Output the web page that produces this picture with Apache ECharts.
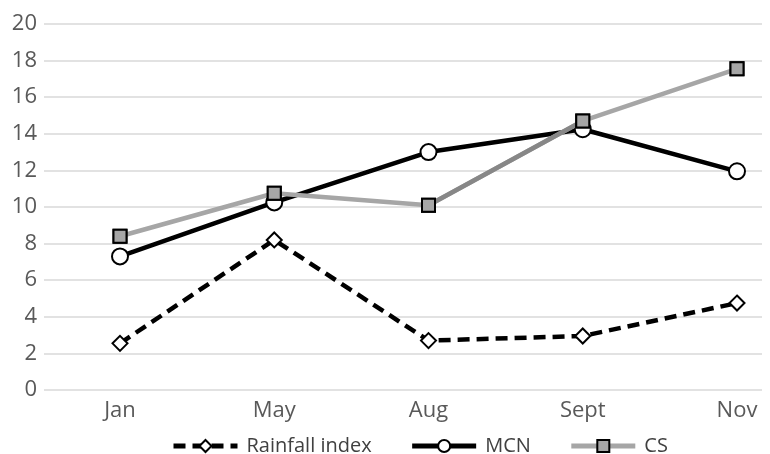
<!DOCTYPE html>
<html>
<head>
<meta charset="utf-8">
<script src="https://cdn.jsdelivr.net/npm/echarts@6/dist/echarts.min.js"></script>
<style>html,body{margin:0;padding:0;background:#fff}#c{width:770px;height:454px}</style>
</head>
<body>
<div id="c"></div>
<script>
const months = ['Jan', 'May', 'Aug', 'Sept', 'Nov'];
const rainfall = [2.55, 8.2, 2.7, 2.95, 4.75];
const mcn = [7.3, 10.25, 13.0, 14.25, 11.95];
const cs = [8.4, 10.75, 10.1, 14.7, 17.55];
// Aug–Sept stretch of CS is drawn in a darker grey
const csDark = ['-', '-', 10.1, 14.7, '-'];
const yTicks = { min: 0, max: 20, interval: 2 };

const font = '"Open Sans", "Noto Sans", sans-serif';
const chart = echarts.init(document.getElementById('c'), null, { renderer: 'canvas' });
const gridTop = 24, gridBottom = 454 - 390;

chart.setOption({
  animation: false,
  grid: [
    { left: 44, right: 8, top: gridTop, bottom: gridBottom },
    { left: 120, right: 33, top: gridTop, bottom: gridBottom }
  ],
  xAxis: [
    { gridIndex: 0, type: 'value', min: 0, max: 1, show: false },
    {
      gridIndex: 1, type: 'category', data: months, boundaryGap: false,
      axisLine: { show: false }, axisTick: { show: false }, splitLine: { show: false },
      axisLabel: { color: '#595959', fontSize: 22, fontFamily: font, margin: 10 }
    }
  ],
  yAxis: [
    {
      gridIndex: 0, type: 'value', min: yTicks.min, max: yTicks.max, interval: yTicks.interval,
      axisLine: { show: false }, axisTick: { show: false },
      axisLabel: { color: '#595959', fontSize: 22, fontFamily: font, margin: 7 },
      splitLine: { lineStyle: { color: '#d9d9d9', width: 1.5 } }
    },
    {
      gridIndex: 1, type: 'value', min: yTicks.min, max: yTicks.max, interval: yTicks.interval,
      show: false
    }
  ],
  legend: {
    top: 431, left: 166, itemGap: 38, itemWidth: 64, itemHeight: 15,
    data: [
      { name: 'Rainfall index', lineStyle: { width: 5 } },
      { name: 'MCN', lineStyle: { width: 5 } },
      { name: 'CS', lineStyle: { width: 5 } }
    ],
    textStyle: { color: '#404040', fontSize: 20, fontFamily: font, padding: [0, 0, 0, 4] }
  },
  series: [
    {
      name: 'Rainfall index', type: 'line', xAxisIndex: 1, yAxisIndex: 1, data: rainfall,
      symbol: 'diamond', symbolSize: 15,
      lineStyle: { color: '#000', width: 4.5, type: [12, 7] },
      itemStyle: { color: '#fff', borderColor: '#000', borderWidth: 2 }, z: 3
    },
    {
      name: 'MCN', type: 'line', xAxisIndex: 1, yAxisIndex: 1, data: mcn,
      symbol: 'circle', symbolSize: 16,
      lineStyle: { color: '#000', width: 4.5 },
      itemStyle: { color: '#fff', borderColor: '#000', borderWidth: 2 }, z: 4
    },
    {
      name: 'CS', type: 'line', xAxisIndex: 1, yAxisIndex: 1, data: cs,
      symbol: 'rect', symbolSize: 13,
      lineStyle: { color: '#a6a6a6', width: 4.5 },
      itemStyle: { color: '#a6a6a6', borderColor: '#000', borderWidth: 2 }, z: 5
    },
    {
      name: 'CS dark', type: 'line', xAxisIndex: 1, yAxisIndex: 1, data: csDark,
      showSymbol: false, symbol: 'none',
      lineStyle: { color: '#878787', width: 4.5 }, z: 5
    },
    {
      name: 'CS marks', type: 'line', xAxisIndex: 1, yAxisIndex: 1, data: cs,
      symbol: 'rect', symbolSize: 13, lineStyle: { width: 0, opacity: 0 },
      itemStyle: { color: '#a6a6a6', borderColor: '#000', borderWidth: 2 }, z: 6
    }
  ]
});
</script>
</body>
</html>
